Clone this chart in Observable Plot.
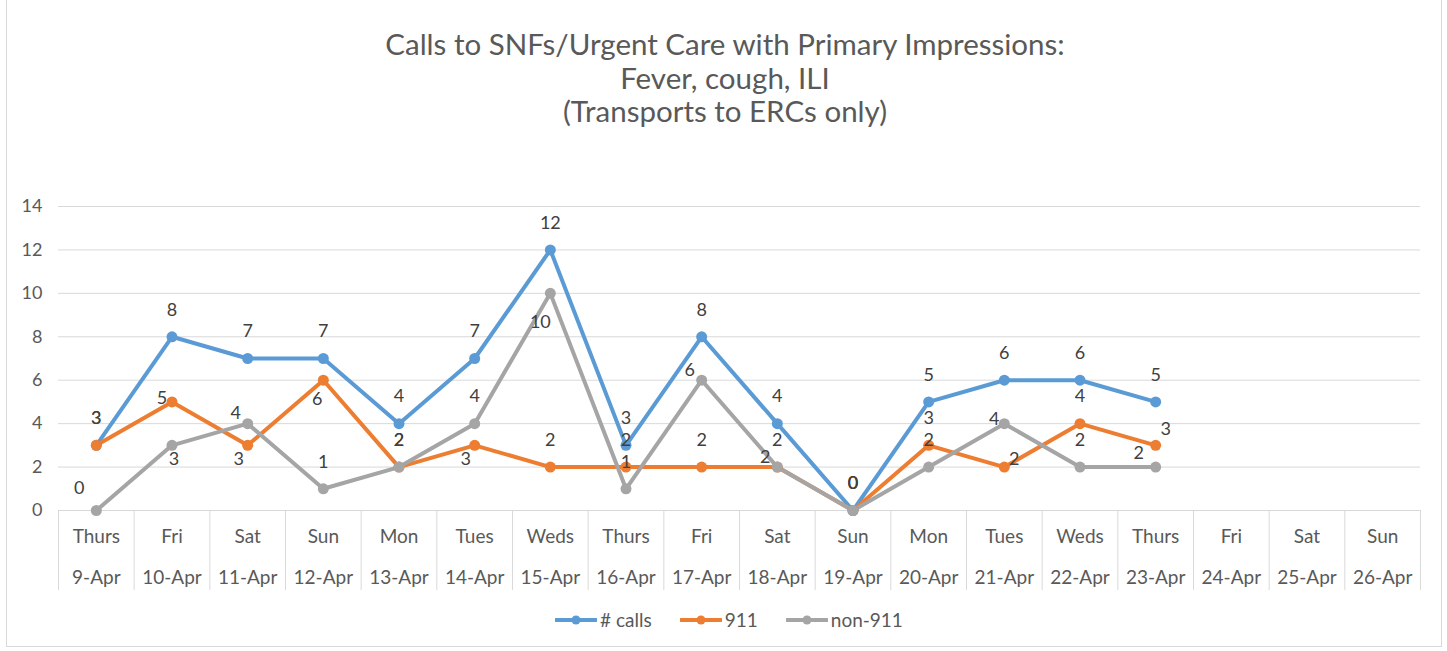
<!DOCTYPE html>
<html>
<head>
<meta charset="utf-8">
<script src="https://cdn.jsdelivr.net/npm/d3@7"></script>
<script src="https://cdn.jsdelivr.net/npm/@observablehq/plot@0.6"></script>
<style>
  html, body { margin: 0; padding: 0; background: #fff; }
  body { width: 1447px; height: 651px; position: relative; overflow: hidden; font-family: Lato, "Open Sans", sans-serif; }
  #frame { position: absolute; left: 6px; top: -2px; width: 1436px; height: 649px; border: 1px solid #d9d9d9; box-sizing: border-box; }
  #title { position: absolute; left: 0; top: 27px; width: 1450px; text-align: center; color: #595959; font-size: 29.5px; line-height: 33.5px; }
  #chart { position: absolute; left: 0; top: 150px; }
  #legend { position: absolute; left: 0; top: 608px; width: 1458px; display: flex; justify-content: center; gap: 28px; color: #595959; font-size: 19px; }
  .item { display: flex; align-items: center; gap: 3px; }
</style>
</head>
<body>
<div id="frame"></div>
<div id="title">Calls to SNFs/Urgent Care with Primary Impressions:<br>Fever, cough, ILI<br>(Transports to ERCs only)</div>
<div id="chart"></div>
<div id="legend"></div>
<script>
// ---- data ----
const days = ["Thurs","Fri","Sat","Sun","Mon","Tues","Weds","Thurs","Fri","Sat","Sun","Mon","Tues","Weds","Thurs","Fri","Sat","Sun"];
const dates = ["9-Apr","10-Apr","11-Apr","12-Apr","13-Apr","14-Apr","15-Apr","16-Apr","17-Apr","18-Apr","19-Apr","20-Apr","21-Apr","22-Apr","23-Apr","24-Apr","25-Apr","26-Apr"];
const calls = [3, 8, 7, 7, 4, 7, 12, 3, 8, 4, 0, 5, 6, 6, 5];
const calls911 = [3, 5, 3, 6, 2, 3, 2, 2, 2, 2, 0, 3, 2, 4, 3];
const callsNon911 = [0, 3, 4, 1, 2, 4, 10, 1, 6, 2, 0, 2, 4, 2, 2];
const seriesNames = ["# calls", "911", "non-911"];
const yTicks = [0, 2, 4, 6, 8, 10, 12, 14];

// label placements (Excel-style data label positions)
const place911 = ["A","L","BL","B","A","BL","A","A","A","A","A","A","R","A","R"];
const placeNon911 = ["AL","B","AL","A","A","A","BL","A","AL","AL","A","A","L","A","AL"];
const placeCalls = calls.map(() => "A");

const colors = {"# calls": "#5B9BD5", "911": "#ED7D31", "non-911": "#A5A5A5"};
const offsets = {A: [0, -27], B: [2, 14], BL: [-9, 14], L: [-10, -4], R: [10, -8], AL: [-12, -10]};

const rows = [];
[[calls, placeCalls], [calls911, place911], [callsNon911, placeNon911]].forEach(([vals, pl], s) => {
  vals.forEach((v, i) => rows.push({series: seriesNames[s], i, x: i + 0.5, y: v, place: pl[i]}));
});
const tweak = {"non-911|6": [-10, 29], "non-911|0": [-17, -22], "911|14": [10, -16], "non-911|14": [-17, -14], "911|3": [-6, 19]};
rows.forEach(r => {
  const t = tweak[r.series + "|" + r.i] || offsets[r.place];
  r.dx = t[0]; r.dy = t[1];
});

const W = 1447, H = 450;
const edges = d3.range(0, days.length + 1);
const centers = d3.range(days.length).map(i => i + 0.5);

const textMarks = rows.map(r => Plot.text([r], {x: "x", y: "y", text: d => String(d.y), dx: r.dx, dy: r.dy, fill: "#404040", fontSize: 18}));

const chart = Plot.plot({
  width: W,
  height: H,
  marginLeft: 58,
  marginRight: 27,
  marginTop: 56,
  marginBottom: 90,
  style: {fontFamily: "Lato, 'Open Sans', sans-serif", background: "transparent", overflow: "visible"},
  x: {domain: [0, days.length], axis: null},
  y: {domain: [0, 14], axis: null},
  marks: [
    Plot.ruleY(yTicks, {stroke: "#d9d9d9", strokeWidth: 1}),
    Plot.axisY(yTicks, {tickSize: 0, tickPadding: 16, fontSize: 18, fill: "#595959", tickFormat: d => d, label: null}),
    Plot.axisX(edges, {tickSize: 80, stroke: "#d9d9d9", tickFormat: () => "", label: null}),
    Plot.axisX(centers, {tickSize: 0, tickPadding: 19, fontSize: 19, fill: "#595959", tickFormat: d => days[Math.floor(d)], label: null}),
    Plot.axisX(centers, {tickSize: 0, tickPadding: 60, fontSize: 19, fill: "#595959", tickFormat: d => dates[Math.floor(d)], label: null}),
    Plot.line(rows, {x: "x", y: "y", z: "series", stroke: d => colors[d.series], strokeWidth: 4, strokeLinejoin: "round"}),
    Plot.dot(rows, {x: "x", y: "y", fill: d => colors[d.series], r: 5.5, stroke: "none"}),
    ...textMarks
  ]
});
document.getElementById("chart").appendChild(chart);

// legend
const legend = document.getElementById("legend");
seriesNames.forEach(name => {
  const item = document.createElement("div");
  item.className = "item";
  item.innerHTML = `<svg width="42" height="12"><line x1="1" y1="6" x2="41" y2="6" stroke="${colors[name]}" stroke-width="4" stroke-linecap="round"/><circle cx="21" cy="6" r="4.5" fill="${colors[name]}"/></svg><span>${name}</span>`;
  legend.appendChild(item);
});
</script>
</body>
</html>
